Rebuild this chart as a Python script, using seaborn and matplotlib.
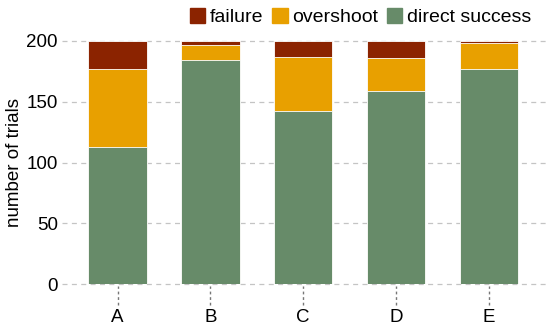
import numpy as np
import pandas as pd
import seaborn as sns
import matplotlib.pyplot as plt
from matplotlib.patches import Patch

# valori
conditions = ["A", "B", "C", "D", "E"]
direct_success = [113, 184, 142, 159, 177]
overshoot = [64, 13, 45, 27, 21]
failure = [23, 3, 13, 14, 2]

colors = {"failure": "#8B2300", "overshoot": "#E8A000", "direct success": "#678B69"}

df = pd.DataFrame({"condition": conditions,
                   "direct success": direct_success,
                   "overshoot": overshoot,
                   "failure": failure})
df["cum_overshoot"] = df["direct success"] + df["overshoot"]
df["cum_failure"] = df["cum_overshoot"] + df["failure"]

sns.set_style("white")
plt.rcParams["font.family"] = ["Liberation Sans", "DejaVu Sans"]
plt.rcParams["text.color"] = "black"
plt.rcParams["axes.labelcolor"] = "black"
plt.rcParams["xtick.color"] = "black"
plt.rcParams["ytick.color"] = "black"

fig = plt.figure(figsize=(5.5, 3.28), dpi=100)
ax = fig.add_axes([0.1127, 0.134, 0.8873, 0.741])

# barre sovrapposte: totale sotto, poi le parti cumulative
for col, key in [("cum_failure", "failure"), ("cum_overshoot", "overshoot"),
                 ("direct success", "direct success")]:
    sns.barplot(data=df, x="condition", y=col, color=colors[key],
                width=0.63, edgecolor="white", linewidth=0.6, saturation=1,
                ax=ax, zorder=3)

ax.set_xlim(-0.6, 4.66)
ax.set_ylim(0, 200)
ax.set_yticks([0, 50, 100, 150, 200])
ax.yaxis.grid(True, linestyle=(0, (4, 3.5)), color="#c4c4c4", linewidth=0.9)
ax.set_axisbelow(True)
for gl in ax.yaxis.get_gridlines():
    gl.set_clip_on(False)
sns.despine(ax=ax, left=True, bottom=True, top=True, right=True)

ax.tick_params(axis="y", length=0, labelsize=13.5, pad=3)
ax.tick_params(axis="x", length=0, labelsize=13.5, pad=18)
ax.set_xlabel("")
ax.set_ylabel("number of trials", fontsize=13.5)
ax.yaxis.set_label_coords(-0.08, 0.5)

# tacche tratteggiate sotto l'asse x
trans = ax.get_xaxis_transform()
ax.vlines(range(len(conditions)), -0.086, -0.008, transform=trans, colors="#777777",
          linestyles=(0, (2, 2)), linewidth=1, clip_on=False)

handles = [Patch(color=colors[k]) for k in ["failure", "overshoot", "direct success"]]
fig.legend(handles, ["failure", "overshoot", "direct success"], ncol=3,
           loc="upper right", bbox_to_anchor=(0.998, 1.028), frameon=False,
           fontsize=14, handlelength=0.78, handleheight=0.78,
           handletextpad=0.25, columnspacing=0.45)

plt.savefig("out.png", dpi=100)
